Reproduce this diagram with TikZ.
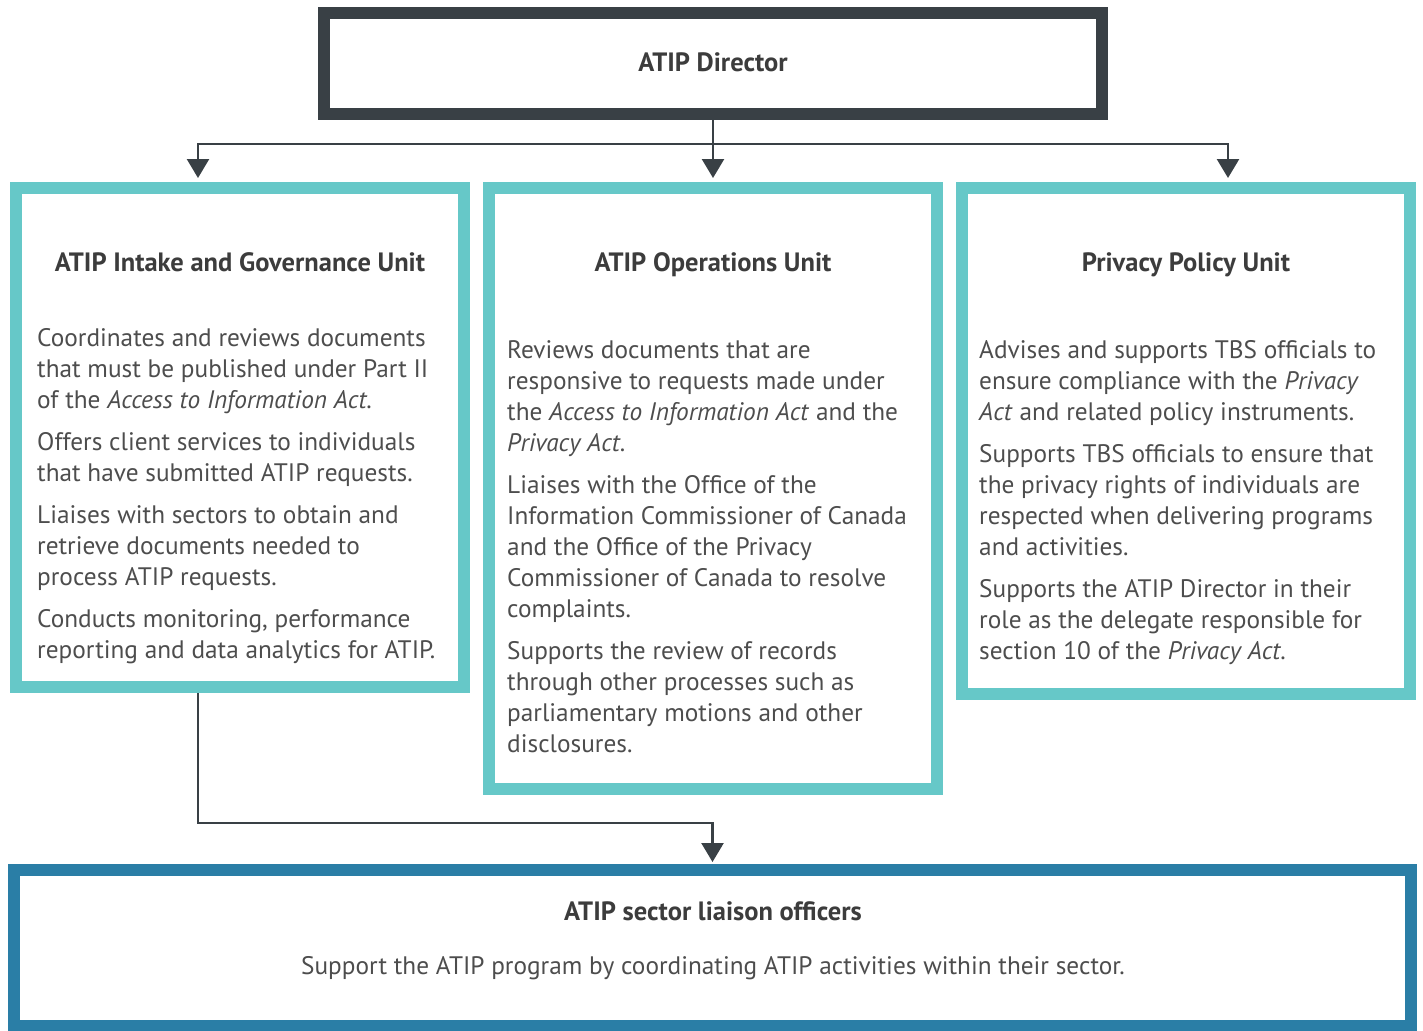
\documentclass[tikz,border=0pt]{standalone}
\usepackage{fontspec}
\setmainfont{PT Sans}
\usetikzlibrary{arrows.meta}
\definecolor{dirc}{HTML}{394045}
\definecolor{tealc}{HTML}{66C8C8}
\definecolor{bluec}{HTML}{2A7EA6}
\definecolor{bodyc}{HTML}{4D4D4D}
\definecolor{headc}{HTML}{3C3C3C}
\tikzset{
  dirbox/.style={draw=dirc,line width=12pt,minimum width=778pt,minimum height=101pt,inner sep=0pt},
  unitbox/.style={draw=tealc,line width=12pt,minimum width=448pt,inner sep=0pt},
  slobox/.style={draw=bluec,line width=12pt,minimum width=1397pt,minimum height=156pt,inner sep=0pt},
  headtxt/.style={font=\fontsize{26.5}{31}\selectfont\bfseries,text=headc,inner sep=0pt,anchor=base},
  bodytxt/.style={font=\fontsize{25.3}{31}\selectfont,text=bodyc,align=left,anchor=north west,inner sep=0pt},
  arr/.style={draw=dirc,line width=2.5pt,-{Triangle[width=22pt,length=19pt]}}
}
\begin{document}
\begin{tikzpicture}[x=1pt,y=-1pt]
\useasboundingbox (0,0) rectangle (1423,1030);
\node[dirbox] (dir) at (713,63.5) {};
\node[headtxt] (dirt) at (713,72) {ATIP Director};
\node[unitbox,minimum height=499pt] (lig) at (240,437.5) {};
\node[unitbox,minimum height=601pt] (ops) at (713,488.5) {};
\node[unitbox,minimum height=506pt] (ppu) at (1186,441) {};
\node[slobox] (slo) at (712.5,948) {};
% connectors
\draw[arr,shorten >=4pt] (dir.south) -- (ops.north);
\draw[arr,shorten >=4pt] (dir.south) -- ++(0,24) -| ([xshift=-42pt]lig.north);
\draw[arr,shorten >=4pt] (dir.south) -- ++(0,24) -| ([xshift=42pt]ppu.north);
\draw[arr,shorten >=2pt] ([xshift=-42pt]lig.south) -- ++(0,130) -| (slo.north);
% headers
\node[headtxt] (ligh) at (240,271) {ATIP Intake and Governance Unit};
\node[headtxt] (opsh) at (713,271) {ATIP Operations Unit};
\node[headtxt] (ppuh) at (1186,271) {Privacy Policy Unit};
\node[headtxt] (sloh) at (713,920) {ATIP sector liaison officers};
% bodies
\node[bodytxt] (ligb) at (37,328) {Coordinates and reviews documents\\
that must be published under Part II\\
of the \textit{Access to Information Act}.\\[11pt]
Offers client services to individuals\\
that have submitted ATIP requests.\\[11pt]
Liaises with sectors to obtain and\\
retrieve documents needed to\\
process ATIP requests.\\[11pt]
Conducts monitoring, performance\\
reporting and data analytics for ATIP.};
\node[bodytxt] (opsb) at (507,340) {Reviews documents that are\\
responsive to requests made under\\
the \textit{Access to Information Act} and the\\
\textit{Privacy Act}.\\[11pt]
Liaises with the Office of the\\
Information Commissioner of Canada\\
and the Office of the Privacy\\
Commissioner of Canada to resolve\\
complaints.\\[11pt]
Supports the review of records\\
through other processes such as\\
parliamentary motions and other\\
disclosures.};
\node[bodytxt] (ppub) at (979,340) {Advises and supports TBS officials to\\
ensure compliance with the \textit{Privacy}\\
\textit{Act} and related policy instruments.\\[11pt]
Supports TBS officials to ensure that\\
the privacy rights of individuals are\\
respected when delivering programs\\
and activities.\\[11pt]
Supports the ATIP Director in their\\
role as the delegate responsible for\\
section 10 of the \textit{Privacy Act}.};
\node[font=\fontsize{25.3}{31}\selectfont,text=bodyc,inner sep=0pt] (slob) at (713,968) {Support the ATIP program by coordinating ATIP activities within their sector.};
\end{tikzpicture}
\end{document}
